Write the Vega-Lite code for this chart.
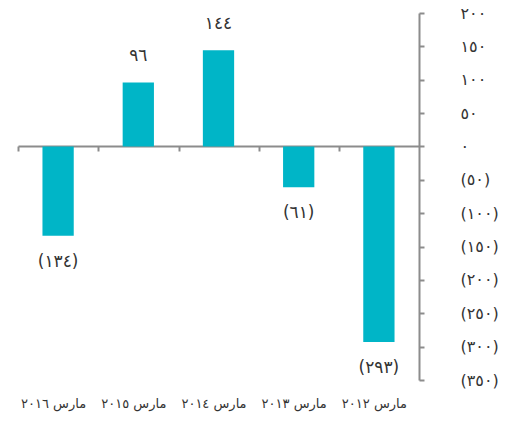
{
  "$schema": "https://vega.github.io/schema/vega-lite/v6.json",
  "width": 401,
  "height": 367,
  "autosize": "none",
  "padding": {"left": 18, "top": 13, "right": 86, "bottom": 45},
  "background": "white",
  "config": {
    "view": {"stroke": null},
    "font": "DejaVu Sans",
    "text": {"font": "DejaVu Sans"}
  },
  "data": {
    "values": [
      {"period": "مارس ٢٠١٦", "value": -134, "label": "(١٣٤)"},
      {"period": "مارس ٢٠١٥", "value": 96, "label": "٩٦"},
      {"period": "مارس ٢٠١٤", "value": 144, "label": "١٤٤"},
      {"period": "مارس ٢٠١٣", "value": -61, "label": "(٦١)"},
      {"period": "مارس ٢٠١٢", "value": -293, "label": "(٢٩٣)"}
    ]
  },
  "encoding": {
    "x": {
      "field": "period",
      "type": "nominal",
      "sort": null,
      "scale": {"paddingInner": 0.61, "paddingOuter": 0.305},
      "axis": {
        "title": null,
        "orient": "bottom",
        "offset": -234,
        "domainColor": "#8c8c8c",
        "domainWidth": 2,
        "tickColor": "#8c8c8c",
        "tickWidth": 2,
        "tickSize": 5,
        "tickOffset": -40,
        "labelOffset": 35,
        "labelPadding": 246,
        "labelAngle": 0,
        "labelFontSize": 13,
        "labelColor": "#333333",
        "labelFont": "DejaVu Sans"
      }
    },
    "y": {
      "field": "value",
      "type": "quantitative",
      "scale": {"domain": [-350, 200], "nice": false, "zero": false},
      "axis": {
        "title": null,
        "orient": "right",
        "values": [200, 150, 100, 50, 0, -50, -100, -150, -200, -250, -300, -350],
        "grid": false,
        "domainColor": "#8c8c8c",
        "domainWidth": 2,
        "tickColor": "#8c8c8c",
        "tickWidth": 2,
        "tickSize": 5,
        "labelPadding": 36,
        "labelAlign": "left",
        "labelFontSize": 16,
        "labelColor": "#333333",
        "labelFont": "DejaVu Sans",
        "labelExpr": "(datum.value < 0 ? '(' : '') + replace(replace(replace(replace(replace(replace(replace(replace(replace(replace(toString(abs(datum.value)), regexp('0','g'), '٠'), regexp('1','g'), '١'), regexp('2','g'), '٢'), regexp('3','g'), '٣'), regexp('4','g'), '٤'), regexp('5','g'), '٥'), regexp('6','g'), '٦'), regexp('7','g'), '٧'), regexp('8','g'), '٨'), regexp('9','g'), '٩') + (datum.value < 0 ? ')' : '')"
      }
    }
  },
  "layer": [
    {
      "mark": {"type": "bar", "color": "#00B5C7"}
    },
    {
      "transform": [{"filter": "datum.value >= 0"}],
      "mark": {"type": "text", "dy": -26, "fontSize": 17, "color": "#333333", "baseline": "middle"},
      "encoding": {"text": {"field": "label"}}
    },
    {
      "transform": [{"filter": "datum.value < 0"}],
      "mark": {"type": "text", "dy": 26, "fontSize": 17, "color": "#333333", "baseline": "middle"},
      "encoding": {"text": {"field": "label"}}
    }
  ]
}
